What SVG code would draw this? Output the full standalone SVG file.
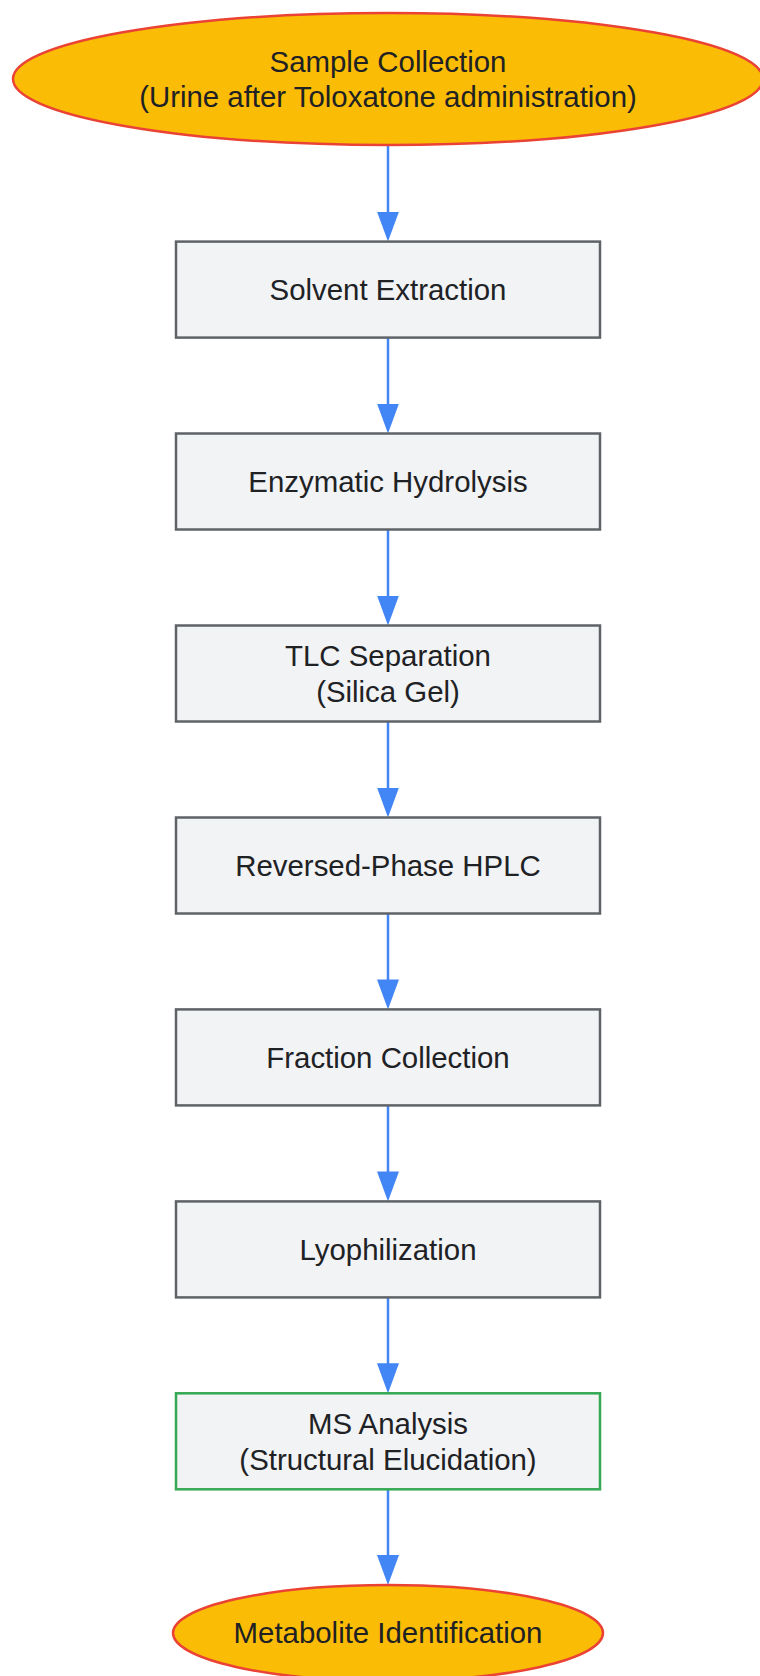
<svg xmlns="http://www.w3.org/2000/svg" width="760" height="1676" viewBox="0 0 760 1676">
<style>
.t{font-family:"Liberation Sans",Arial,sans-serif;font-size:29.4px;fill:#202124;text-anchor:middle}
.term{fill:#FBBC05;stroke:#EA4335;stroke-width:2.5}
.box{fill:#F1F3F4;stroke:#5F6368;stroke-width:2.5}
.fin{fill:#F1F3F4;stroke:#34A853;stroke-width:2.5}
.e{stroke:#4285F4;stroke-width:2.5;fill:none;marker-end:url(#ah)}
</style>
<defs>
<marker id="ah" viewBox="0 0 30 22" markerUnits="userSpaceOnUse" markerWidth="30" markerHeight="22" refX="15" refY="11" orient="auto">
<path d="M0,0 L30,11 L0,22 z" fill="#4285F4"/>
</marker>
</defs>
<rect width="760" height="1676" fill="#FFFFFF"/>
<g id="connectors">
<line class="e" x1="388" y1="146" x2="388" y2="226.6"/>
<line class="e" x1="388" y1="337.6" x2="388" y2="418.5"/>
<line class="e" x1="388" y1="529.5" x2="388" y2="610.5"/>
<line class="e" x1="388" y1="721.5" x2="388" y2="802.5"/>
<line class="e" x1="388" y1="913.5" x2="388" y2="994.4"/>
<line class="e" x1="388" y1="1105.4" x2="388" y2="1186.4"/>
<line class="e" x1="388" y1="1297.4" x2="388" y2="1378.3"/>
<line class="e" x1="388" y1="1489.3" x2="388" y2="1570"/>
</g>
<g id="sample">
<ellipse class="term" cx="388" cy="79" rx="375" ry="66"/>
<text class="t" x="388" y="72">Sample Collection</text>
<text class="t" x="388" y="107">(Urine after Toloxatone administration)</text>
</g>
<g id="solvent">
<rect class="box" x="176" y="241.6" width="424" height="96"/>
<text class="t" x="388" y="300">Solvent Extraction</text>
</g>
<g id="hydrolysis">
<rect class="box" x="176" y="433.5" width="424" height="96"/>
<text class="t" x="388" y="492">Enzymatic Hydrolysis</text>
</g>
<g id="tlc">
<rect class="box" x="176" y="625.5" width="424" height="96"/>
<text class="t" x="388" y="666">TLC Separation</text>
<text class="t" x="388" y="702">(Silica Gel)</text>
</g>
<g id="hplc">
<rect class="box" x="176" y="817.5" width="424" height="96"/>
<text class="t" x="388" y="876">Reversed-Phase HPLC</text>
</g>
<g id="fraction">
<rect class="box" x="176" y="1009.4" width="424" height="96"/>
<text class="t" x="388" y="1068">Fraction Collection</text>
</g>
<g id="lyophilization">
<rect class="box" x="176" y="1201.4" width="424" height="96"/>
<text class="t" x="388" y="1260">Lyophilization</text>
</g>
<g id="ms">
<rect class="fin" x="176" y="1393.3" width="424" height="96"/>
<text class="t" x="388" y="1434">MS Analysis</text>
<text class="t" x="388" y="1470">(Structural Elucidation)</text>
</g>
<g id="identification">
<ellipse class="term" cx="388" cy="1633" rx="215" ry="48"/>
<text class="t" x="388" y="1643">Metabolite Identification</text>
</g>
</svg>
